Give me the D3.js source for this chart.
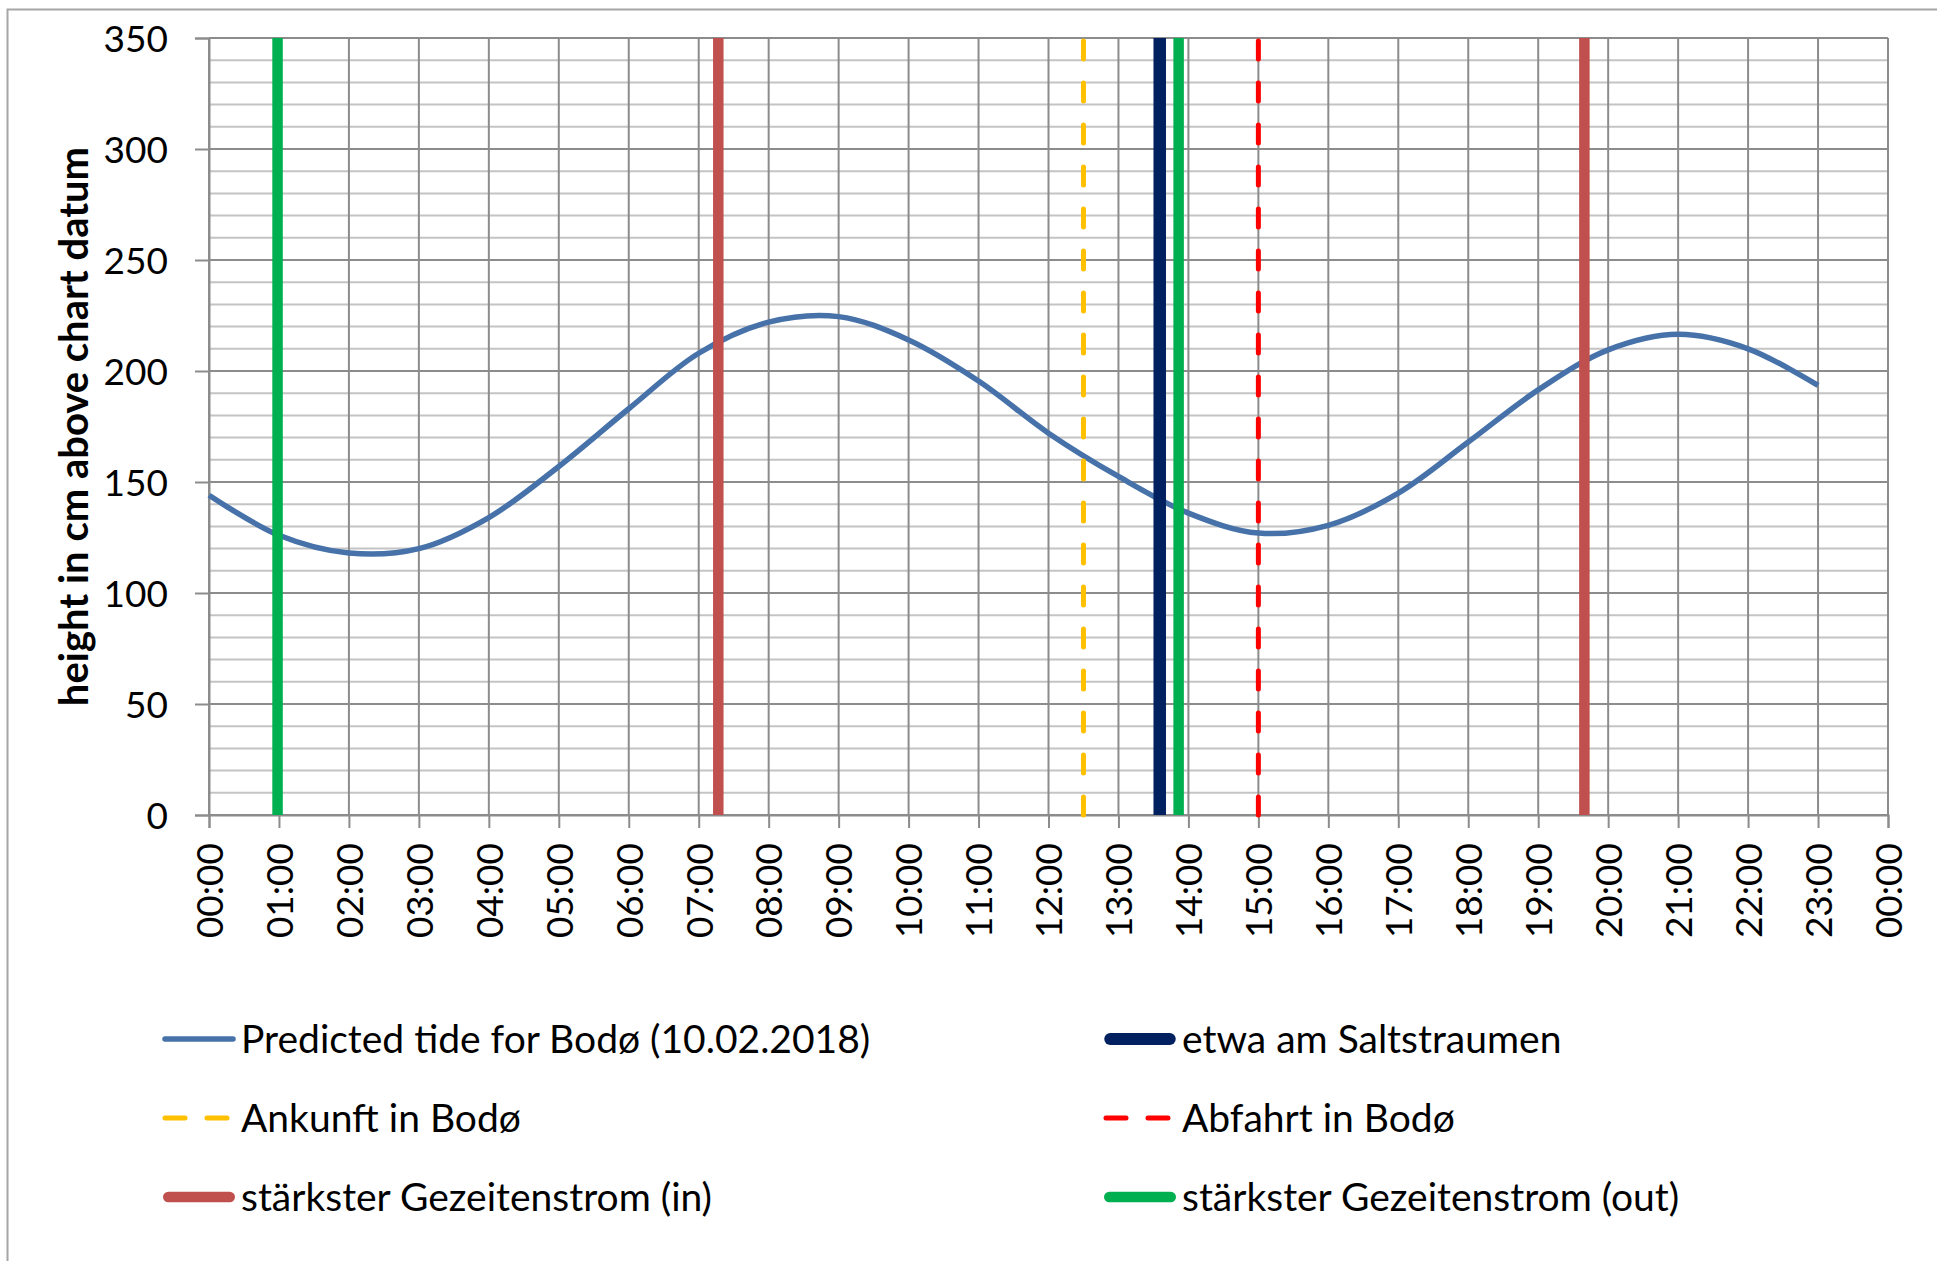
<!DOCTYPE html>
<html>
<head>
<meta charset="utf-8">
<script src="https://cdnjs.cloudflare.com/ajax/libs/d3/7.8.5/d3.min.js"></script>
<style>
  html, body { margin: 0; padding: 0; background: #fff; }
  svg { display: block; font-family: Lato, "Open Sans", sans-serif; }
</style>
</head>
<body>
<div id="chart"></div>
<script>
// tide prediction, one value per hour
const tideHours = [0, 1, 2, 3, 4, 5, 6, 7, 8, 9, 10, 11, 12, 13, 14, 15, 16, 17, 18, 19, 20, 21, 22, 23];
const tideCm = [144, 126, 118, 120, 134, 157, 183, 208, 222, 224.5, 214, 195.5, 172, 152.5, 136, 127, 130.5, 145, 168, 191.5, 209.5, 216.5, 210, 193.5];

// x axis: one tick per hour, 0..24
const xTickHours = d3.range(0, 25);
const xTickLabels = ["00:00", "01:00", "02:00", "03:00", "04:00", "05:00", "06:00", "07:00", "08:00",
  "09:00", "10:00", "11:00", "12:00", "13:00", "14:00", "15:00", "16:00", "17:00", "18:00",
  "19:00", "20:00", "21:00", "22:00", "23:00", "00:00"];
const yTicks = [0, 50, 100, 150, 200, 250, 300, 350];
const yMinorTicks = d3.range(0, 351, 10);

// vertical markers (time in hours)
const markerSeries = ["etwa am Saltstraumen", "Ankunft in Bodø", "Abfahrt in Bodø",
  "stärkster Gezeitenstrom (in)", "stärkster Gezeitenstrom (out)"];
const markerTimes = [[13.59], [12.5], [15.0], [7.28, 19.66], [0.98, 13.86]];

const tideName = "Predicted tide for Bodø (10.02.2018)";
const legendOrder = [tideName, "etwa am Saltstraumen", "Ankunft in Bodø", "Abfahrt in Bodø",
  "stärkster Gezeitenstrom (in)", "stärkster Gezeitenstrom (out)"];

const style = {
  [tideName]: { color: "#4672A9", width: 5.5, dash: null },
  "etwa am Saltstraumen": { color: "#002060", width: 12.5, dash: null },
  "Ankunft in Bodø": { color: "#FFC000", width: 5, dash: "18,24" },
  "Abfahrt in Bodø": { color: "#FF0000", width: 5, dash: "18,24" },
  "stärkster Gezeitenstrom (in)": { color: "#C0504D", width: 10.5, dash: null },
  "stärkster Gezeitenstrom (out)": { color: "#00B050", width: 10.5, dash: null }
};

const W = 1937, H = 1261;
const plot = { left: 209, right: 1888, top: 38, bottom: 815 };

const svg = d3.select("#chart").append("svg")
  .attr("width", W)
  .attr("height", H);

// outer chart frame
svg.append("rect")
  .attr("x", 7.5).attr("y", 9.5)
  .attr("width", W).attr("height", H)
  .attr("fill", "none")
  .attr("stroke", "#a6a6a6")
  .attr("stroke-width", 2);

const x = d3.scaleLinear().domain([0, 24]).range([plot.left, plot.right]);
const y = d3.scaleLinear().domain([0, 350]).range([plot.bottom, plot.top]);

// minor horizontal grid
svg.append("g")
  .selectAll("line")
  .data(yMinorTicks.filter(v => v % 50 !== 0))
  .join("line")
  .attr("x1", plot.left).attr("x2", plot.right)
  .attr("y1", d => y(d)).attr("y2", d => y(d))
  .attr("stroke", "#c4c4c4")
  .attr("stroke-width", 2);

// major horizontal grid
svg.append("g")
  .selectAll("line")
  .data(yTicks)
  .join("line")
  .attr("x1", plot.left).attr("x2", plot.right)
  .attr("y1", d => y(d)).attr("y2", d => y(d))
  .attr("stroke", "#8c8c8c")
  .attr("stroke-width", 2);

// vertical grid
svg.append("g")
  .selectAll("line")
  .data(xTickHours)
  .join("line")
  .attr("x1", d => x(d)).attr("x2", d => x(d))
  .attr("y1", plot.top).attr("y2", plot.bottom)
  .attr("stroke", "#8c8c8c")
  .attr("stroke-width", 2);

// y axis
const yAxis = svg.append("g")
  .attr("transform", `translate(${plot.left},0)`)
  .call(d3.axisLeft(y).tickValues(yTicks).tickSize(14).tickPadding(27));
yAxis.select(".domain").attr("stroke", "#8c8c8c").attr("stroke-width", 2);
yAxis.selectAll(".tick line").attr("stroke", "#8c8c8c").attr("stroke-width", 2);
yAxis.selectAll(".tick text")
  .attr("font-size", 37)
  .attr("font-family", "Lato")
  .attr("fill", "#000")
  .attr("dy", "0.36em");

// x axis
const xAxis = svg.append("g")
  .attr("transform", `translate(0,${plot.bottom})`)
  .call(d3.axisBottom(x).tickValues(xTickHours).tickFormat((d, i) => xTickLabels[i]).tickSize(13));
xAxis.select(".domain").attr("stroke", "#8c8c8c").attr("stroke-width", 2);
xAxis.selectAll(".tick line").attr("stroke", "#8c8c8c").attr("stroke-width", 2);
xAxis.selectAll(".tick text")
  .attr("font-size", 37)
  .attr("font-family", "Lato")
  .attr("fill", "#000")
  .attr("text-anchor", "end")
  .attr("transform", "rotate(-90)")
  .attr("x", -28)
  .attr("y", 0)
  .attr("dy", "0.36em");

// y axis title
svg.append("text")
  .attr("transform", `translate(74,${(plot.top + plot.bottom) / 2}) rotate(-90)`)
  .attr("text-anchor", "middle")
  .attr("dy", "0.36em")
  .attr("font-size", 40)
  .attr("font-weight", "bold")
  .attr("font-family", "Lato")
  .text("height in cm above chart datum");

// tide curve
const tide = tideHours.map((h, i) => ({ h, v: tideCm[i] }));
const line = d3.line()
  .x(d => x(d.h))
  .y(d => y(d.v))
  .curve(d3.curveCatmullRom.alpha(0.5));

svg.append("path")
  .datum(tide)
  .attr("d", line)
  .attr("fill", "none")
  .attr("stroke", style[tideName].color)
  .attr("stroke-width", style[tideName].width)
  .attr("stroke-linejoin", "round");

// vertical marker lines
markerSeries.forEach((name, i) => {
  const s = style[name];
  svg.append("g")
    .selectAll("line")
    .data(markerTimes[i])
    .join("line")
    .attr("x1", d => x(d)).attr("x2", d => x(d))
    .attr("y1", s.dash ? y(350) + 3 : y(350))
    .attr("y2", y(0))
    .attr("stroke", s.color)
    .attr("stroke-width", s.width)
    .attr("stroke-linecap", s.dash ? "round" : "butt")
    .attr("stroke-dasharray", s.dash);
});

// legend: 2 columns, 3 rows
const legendCols = [163, 1104];
const legendRows = [1039, 1118, 1197];
const legend = svg.append("g")
  .selectAll("g")
  .data(legendOrder)
  .join("g")
  .attr("transform", (d, i) => `translate(${legendCols[i % 2]},${legendRows[Math.floor(i / 2)]})`);

legend.append("line")
  .attr("x1", d => style[d].width > 8 ? style[d].width / 2 : 2)
  .attr("x2", d => 72 - (style[d].width > 8 ? style[d].width / 2 : 2))
  .attr("stroke", d => style[d].color)
  .attr("stroke-width", d => Math.min(style[d].width, 12))
  .attr("stroke-linecap", "round")
  .attr("stroke-dasharray", d => style[d].dash ? "20,22" : null);

legend.append("text")
  .attr("x", d => 78)
  .attr("dy", "0.36em")
  .attr("font-size", 39)
  .attr("font-family", "Lato")
  .attr("fill", "#000")
  .text(d => d);
</script>
</body>
</html>
